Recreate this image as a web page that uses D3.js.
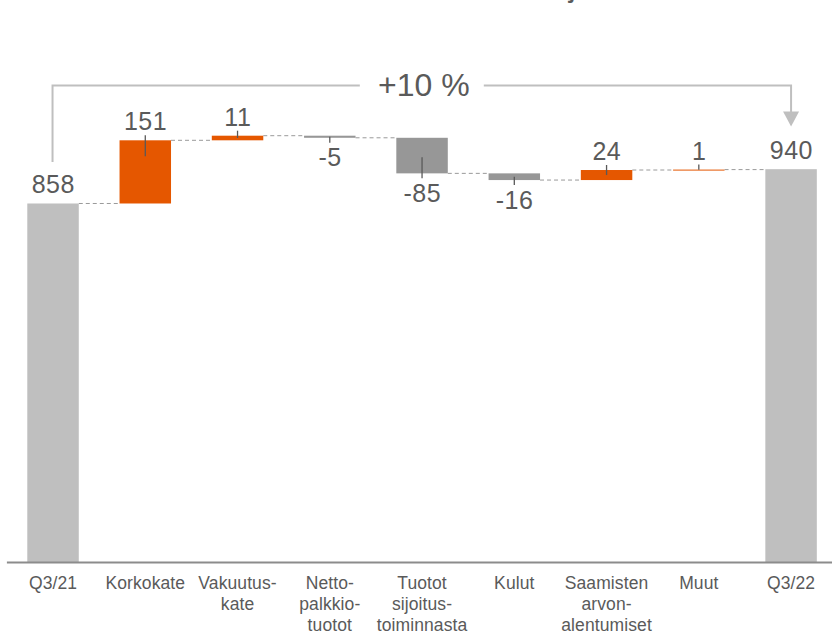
<!DOCTYPE html>
<html><head><meta charset="utf-8">
<script src="https://cdn.jsdelivr.net/npm/d3@7"></script>
<style>
html,body{margin:0;padding:0;background:#fff;}
svg{display:block;}
text{font-family:"Liberation Sans Narrow","Liberation Sans",Arial,sans-serif;fill:#5a5a5a;}
</style></head>
<body>
<svg id="chart" width="832" height="636"></svg>
<script>
// ---- data ----
const categories = ["Q3/21","Korkokate","Vakuutus-\nkate","Netto-\npalkkio-\ntuotot","Tuotot\nsijoitus-\ntoiminnasta","Kulut","Saamisten\narvon-\nalentumiset","Muut","Q3/22"];
const kinds = ["total","delta","delta","delta","delta","delta","delta","delta","total"];
const values = [858, 151, 11, -5, -85, -16, 24, 1, 940];
const valueLabels = ["858","151","11","-5","-85","-16","24","1","940"];
const changeLabel = "+10 %";
const titleText = "Tuloksen muutos, milj. €";

// ---- compute steps ----
let run = 0;
const rows = values.map((v, i) => {
  let lo, hi, end;
  if (kinds[i] === "total") { lo = 0; hi = v; run = v; end = v; }
  else { const s = run; run = s + v; lo = Math.min(s, run); hi = Math.max(s, run); end = run; }
  return {cat: categories[i], kind: kinds[i], v, lo, hi, end, label: valueLabels[i], i};
});

const svg = d3.select("#chart");
const x = d3.scaleBand().domain(d3.range(categories.length)).range([6.9, 837.2]).paddingInner(0.442).paddingOuter(0.221);
const y = d3.scaleLinear().domain([0, 1000]).range([562.5, 144.07]);
const bw = x.bandwidth();
const cx = i => x(i) + bw / 2;

const ORANGE = "#E55700", NEG = "#979797", TOT = "#BFBFBF";
const color = d => d.kind === "total" ? TOT : (d.v >= 0 ? ORANGE : NEG);

// title (cut off at top edge, as in the reference)
const title = svg.append("text").attr("font-size", 32).attr("y", -4.5).text(titleText);
const pre = titleText.indexOf(",");
const preW = title.node().getSubStringLength(0, pre);
title.attr("x", 510 - preW);

// connectors
const conn = svg.append("g");
rows.slice(0, -1).forEach(d => {
  conn.append("line")
    .attr("x1", x(d.i) + bw).attr("x2", x(d.i + 1))
    .attr("y1", y(d.end)).attr("y2", y(d.end))
    .attr("stroke", "#9a9a9a").attr("stroke-width", 1).attr("stroke-dasharray", "4,3");
});

// bars
svg.append("g").selectAll("rect").data(rows).join("rect")
  .attr("x", d => x(d.i)).attr("width", bw)
  .attr("y", d => y(d.hi))
  .attr("height", d => Math.max(1, y(d.lo) - y(d.hi)))
  .attr("fill", color);

// axis baseline
svg.append("line").attr("x1", 6.9).attr("x2", 832).attr("y1", y(0)).attr("y2", y(0))
  .attr("stroke", "#8c8c8c").attr("stroke-width", 2);

// value ticks and labels
const lab = svg.append("g");
rows.forEach(d => {
  const top = y(d.hi), bot = y(d.lo), h = bot - top;
  let ty;
  if (d.kind === "total" || d.v >= 0) {
    ty = top - 10;
    if (d.kind !== "total") {
      lab.append("line").attr("x1", cx(d.i)).attr("x2", cx(d.i))
        .attr("y1", top - 5).attr("y2", top + Math.min(h / 2, 16))
        .attr("stroke", "#595959").attr("stroke-width", 1.3);
    }
  } else {
    ty = bot + 28.5;
    lab.append("line").attr("x1", cx(d.i)).attr("x2", cx(d.i))
      .attr("y1", bot + 5).attr("y2", bot - Math.min(h / 2, 16))
      .attr("stroke", "#595959").attr("stroke-width", 1.3);
  }
  lab.append("text").attr("x", cx(d.i) + 0.3).attr("y", ty)
    .attr("text-anchor", "middle").attr("font-size", 25).attr("letter-spacing", 0.5)
    .text(d.label);
});

// category labels
const cl = svg.append("g");
rows.forEach(d => {
  const t = cl.append("text").attr("text-anchor", "middle").attr("font-size", 17.5).attr("letter-spacing", 0.1);
  d.cat.split("\n").forEach((ln, k) => {
    t.append("tspan").attr("x", cx(d.i)).attr("y", 589.3 + k * 21).text(ln);
  });
});

// bracket with change label
const bY = 85.5, lx = cx(0) - 0.5, rx = cx(categories.length - 1);
const midX = (lx + rx) / 2;
const br = svg.append("g").attr("stroke", "#BFBFBF").attr("stroke-width", 2).attr("fill", "none");
br.append("path").attr("d", `M${lx},162 V${bY} H${midX - 62}`);
br.append("path").attr("d", `M${midX + 62},${bY} H${rx} V112`);
svg.append("path").attr("d", `M${rx - 8},111.5 L${rx + 8},111.5 L${rx},126.5 Z`).attr("fill", "#BFBFBF");
svg.append("text").attr("x", midX + 2).attr("y", 96).attr("text-anchor", "middle")
  .attr("font-size", 32).attr("letter-spacing", 0).text(changeLabel);
</script>
</body></html>
